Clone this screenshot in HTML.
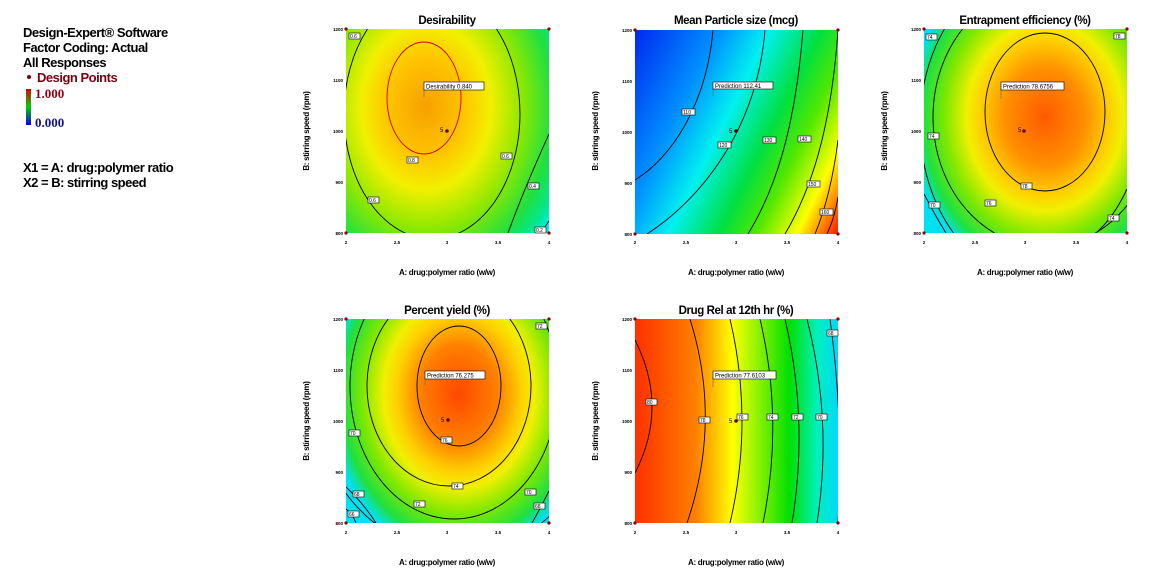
<!DOCTYPE html>
<html><head><meta charset="utf-8"><style>
body{margin:0;background:#fff;width:1154px;height:580px;overflow:hidden}
svg{display:block}
text{font-family:"Liberation Sans",sans-serif}
.t{font-weight:bold;font-size:11.5px;letter-spacing:-0.4px}
.ax{font-weight:bold;font-size:8px;letter-spacing:-0.3px}
.tk{font-size:4.5px;font-weight:bold}
.lg{font-weight:bold;font-size:13px;letter-spacing:-0.5px}
.c{fill:none;stroke:#000;stroke-width:0.9}
.lb{fill:#fff;stroke:#000;stroke-width:0.6}
.lt{font-size:5px}
.pt{font-size:6px}
.sf{font-family:"Liberation Serif",serif;font-weight:bold;font-size:13px}
</style></head><body>
<svg width="1154" height="580" viewBox="0 0 1154 580" xmlns="http://www.w3.org/2000/svg">
<defs>
<clipPath id="cp"><rect x="0" y="0" width="203" height="204"/></clipPath>
<radialGradient id="g1" gradientUnits="userSpaceOnUse" cx="80" cy="78" r="140" gradientTransform="translate(80 78) scale(1.1 1.4) translate(-80 -78)">
<stop offset="0" stop-color="#f7a000"/><stop offset="0.25" stop-color="#ffc400"/><stop offset="0.42" stop-color="#f2f000"/><stop offset="0.62" stop-color="#90e800"/><stop offset="0.82" stop-color="#20e040"/><stop offset="0.93" stop-color="#00e890"/><stop offset="1" stop-color="#00f0f0"/></radialGradient>
<linearGradient id="g2" gradientUnits="userSpaceOnUse" x1="0" y1="0" x2="240" y2="120">
<stop offset="0" stop-color="#0028f0"/><stop offset="0.28" stop-color="#0090ff"/><stop offset="0.45" stop-color="#00f0f0"/><stop offset="0.62" stop-color="#00e040"/><stop offset="0.74" stop-color="#50e800"/><stop offset="0.88" stop-color="#ffff00"/><stop offset="1" stop-color="#ff3000"/></linearGradient>
<radialGradient id="g3" gradientUnits="userSpaceOnUse" cx="121" cy="88" r="135" gradientTransform="translate(121 88) scale(1 1.2) translate(-121 -88)">
<stop offset="0" stop-color="#ff5a00"/><stop offset="0.3" stop-color="#ff9000"/><stop offset="0.48" stop-color="#ffd000"/><stop offset="0.58" stop-color="#f0f000"/><stop offset="0.74" stop-color="#80e800"/><stop offset="0.9" stop-color="#20e040"/><stop offset="1" stop-color="#00e0f0"/></radialGradient>
<radialGradient id="g4" gradientUnits="userSpaceOnUse" cx="113" cy="75" r="130" gradientTransform="translate(113 75) scale(1 1.25) translate(-113 -75)">
<stop offset="0" stop-color="#ff4800"/><stop offset="0.3" stop-color="#ff8000"/><stop offset="0.48" stop-color="#ffd000"/><stop offset="0.58" stop-color="#f0f000"/><stop offset="0.74" stop-color="#80e800"/><stop offset="0.9" stop-color="#20e040"/><stop offset="1" stop-color="#00e0f0"/></radialGradient>
<linearGradient id="g5" gradientUnits="userSpaceOnUse" x1="0" y1="0" x2="203" y2="0">
<stop offset="0" stop-color="#ff3000"/><stop offset="0.3" stop-color="#ff8000"/><stop offset="0.48" stop-color="#ffff00"/><stop offset="0.62" stop-color="#80f000"/><stop offset="0.76" stop-color="#00e000"/><stop offset="0.9" stop-color="#00f0c0"/><stop offset="1" stop-color="#00d8f8"/></linearGradient>
<linearGradient id="gl" x1="0" y1="0" x2="0" y2="1"><stop offset="0" stop-color="#e00000"/><stop offset="0.5" stop-color="#00d000"/><stop offset="1" stop-color="#0000e0"/></linearGradient>
</defs>

<!-- Legend -->
<text class="lg" x="23" y="37">Design-Expert® Software</text>
<text class="lg" x="23" y="52">Factor Coding: Actual</text>
<text class="lg" x="23" y="67">All Responses</text>
<circle cx="29" cy="77" r="2" fill="#7a0010"/>
<text class="lg" x="37" y="82" fill="#7a0010">Design Points</text>
<rect x="26" y="89" width="5" height="36" fill="url(#gl)"/>
<text class="sf" x="35" y="98" fill="#8a0010">1.000</text>
<text class="sf" x="35" y="127" fill="#101080">0.000</text>
<text class="lg" x="23" y="172">X1 = A: drug:polymer ratio</text>
<text class="lg" x="23" y="187">X2 = B: stirring speed</text>

<!-- Plot 1 -->
<g transform="translate(346,29)">
<text class="t" x="101" y="-5" text-anchor="middle">Desirability</text>
<g clip-path="url(#cp)">
<rect width="203" height="204" fill="url(#g1)"/>
<ellipse class="c" cx="86" cy="85" rx="88" ry="125"/>
<path class="c" d="M203,105 Q178,160 162,204"/>
<path class="c" d="M203,192 L195,204"/>
<ellipse cx="78" cy="69" rx="37" ry="56" fill="none" stroke="#d00000" stroke-width="0.9"/>
</g>
<rect class="lb" x="3" y="4" width="11" height="6"/><text class="lt" x="4" y="9">0.6</text>
<rect class="lb" x="22" y="168" width="11" height="6"/><text class="lt" x="23" y="173">0.6</text>
<rect class="lb" x="61" y="128" width="11" height="6"/><text class="lt" x="62" y="133">0.8</text>
<rect class="lb" x="155" y="124" width="11" height="6"/><text class="lt" x="156" y="129">0.6</text>
<rect class="lb" x="182" y="154" width="11" height="6"/><text class="lt" x="183" y="159">0.4</text>
<rect class="lb" x="189" y="198" width="11" height="6"/><text class="lt" x="190" y="203">0.2</text>
<line x1="78" y1="60" x2="78" y2="68" stroke="#666" stroke-width="0.6"/>
<rect class="lb" x="78" y="53" width="60" height="8"/><text class="pt" x="80" y="59.5">Desirability  0.840</text>
<text class="pt" x="94" y="103">5</text><circle cx="101" cy="102" r="1.8" fill="#600"/>
</g>

<!-- Plot 2 -->
<g transform="translate(635,30)">
<text class="t" x="101" y="-6" text-anchor="middle">Mean Particle size (mcg)</text>
<g clip-path="url(#cp)">
<rect width="203" height="204" fill="url(#g2)"/>
<path class="c" d="M78,0 C72,70 40,125 0,150"/>
<path class="c" d="M130,0 C122,100 65,170 12,204"/>
<path class="c" d="M168,0 C160,100 140,160 113,204"/>
<path class="c" d="M203,0 C196,100 176,160 150,204"/>
<path class="c" d="M203,110 C198,150 190,180 180,204"/>
<path class="c" d="M203,167 C200,185 196,195 192,204"/>
</g>
<rect class="lb" x="47" y="79" width="13" height="6"/><text class="lt" x="48" y="84">110</text>
<rect class="lb" x="83" y="112" width="13" height="6"/><text class="lt" x="84" y="117">120</text>
<rect class="lb" x="128" y="107" width="13" height="6"/><text class="lt" x="129" y="112">130</text>
<rect class="lb" x="163" y="106" width="13" height="6"/><text class="lt" x="164" y="111">140</text>
<rect class="lb" x="172" y="151" width="13" height="6"/><text class="lt" x="173" y="156">150</text>
<rect class="lb" x="185" y="179" width="13" height="6"/><text class="lt" x="186" y="184">160</text>
<line x1="78" y1="58" x2="78" y2="66" stroke="#666" stroke-width="0.6"/>
<rect class="lb" x="78" y="52" width="60" height="7"/><text class="pt" x="80" y="58">Prediction  112.41</text>
<text class="pt" x="94" y="103">5</text><circle cx="101" cy="101" r="1.8" fill="#600"/>
</g>

<!-- Plot 3 -->
<g transform="translate(924,29)">
<text class="t" x="101" y="-5" text-anchor="middle">Entrapment efficiency (%)</text>
<g clip-path="url(#cp)">
<rect width="203" height="204" fill="url(#g3)"/>
<ellipse class="c" cx="121" cy="83" rx="60" ry="79"/>
<ellipse class="c" cx="121" cy="88" rx="112" ry="130"/>
<ellipse class="c" cx="121" cy="95" rx="125" ry="160"/>
<path class="c" d="M203,160 Q190,188 172,204"/>
<path class="c" d="M0,165 Q12,188 22,204"/>
</g>
<rect class="lb" x="2" y="5" width="11" height="6"/><text class="lt" x="3" y="10">74</text>
<rect class="lb" x="190" y="4" width="11" height="6"/><text class="lt" x="191" y="9">78</text>
<rect class="lb" x="4" y="104" width="11" height="6"/><text class="lt" x="5" y="109">74</text>
<rect class="lb" x="5" y="173" width="11" height="6"/><text class="lt" x="6" y="178">70</text>
<rect class="lb" x="61" y="171" width="11" height="6"/><text class="lt" x="62" y="176">76</text>
<rect class="lb" x="97" y="154" width="11" height="6"/><text class="lt" x="98" y="159">78</text>
<rect class="lb" x="184" y="186" width="11" height="6"/><text class="lt" x="185" y="191">74</text>
<line x1="77" y1="59" x2="77" y2="70" stroke="#666" stroke-width="0.6"/>
<rect class="lb" x="77" y="53" width="63" height="8"/><text class="pt" x="79" y="59.5">Prediction  78.6756</text>
<text class="pt" x="94" y="103">5</text><circle cx="100" cy="102" r="1.8" fill="#600"/>
</g>

<!-- Plot 4 -->
<g transform="translate(346,319)">
<text class="t" x="101" y="-5" text-anchor="middle">Percent yield (%)</text>
<g clip-path="url(#cp)">
<rect width="203" height="204" fill="url(#g4)"/>
<ellipse class="c" cx="113" cy="67" rx="42" ry="60"/>
<ellipse class="c" cx="103" cy="67" rx="82" ry="100"/>
<ellipse class="c" cx="108" cy="67" rx="104" ry="133"/>
<ellipse class="c" cx="112" cy="62" rx="148" ry="172"/>
<path class="c" d="M0,168 Q18,185 30,204"/>
<path class="c" d="M0,190 Q7,196 10,204"/>
<path class="c" d="M203,172 Q194,190 186,204"/>
</g>
<rect class="lb" x="190" y="4" width="11" height="6"/><text class="lt" x="191" y="9">72</text>
<rect class="lb" x="3" y="111" width="11" height="6"/><text class="lt" x="4" y="116">70</text>
<rect class="lb" x="95" y="118" width="11" height="6"/><text class="lt" x="96" y="123">76</text>
<rect class="lb" x="106" y="164" width="11" height="6"/><text class="lt" x="107" y="169">74</text>
<rect class="lb" x="68" y="182" width="11" height="6"/><text class="lt" x="69" y="187">72</text>
<rect class="lb" x="7" y="172" width="11" height="6"/><text class="lt" x="8" y="177">68</text>
<rect class="lb" x="2" y="192" width="11" height="6"/><text class="lt" x="3" y="197">66</text>
<rect class="lb" x="179" y="170" width="11" height="6"/><text class="lt" x="180" y="175">70</text>
<rect class="lb" x="188" y="184" width="11" height="6"/><text class="lt" x="189" y="189">68</text>
<line x1="79" y1="58" x2="79" y2="66" stroke="#666" stroke-width="0.6"/>
<rect class="lb" x="79" y="52" width="60" height="8"/><text class="pt" x="81" y="58.5">Prediction  76.275</text>
<text class="pt" x="95" y="103">5</text><circle cx="102" cy="101" r="1.8" fill="#600"/>
</g>

<!-- Plot 5 -->
<g transform="translate(635,319)">
<text class="t" x="101" y="-5" text-anchor="middle">Drug Rel at 12th hr (%)</text>
<g clip-path="url(#cp)">
<rect width="203" height="204" fill="url(#g5)"/>
<path class="c" d="M0,21 Q34,88 0,154"/>
<path class="c" d="M55,0 Q87,102 52,204"/>
<path class="c" d="M95,0 Q119,102 95,204"/>
<path class="c" d="M125,0 Q149,102 128,204"/>
<path class="c" d="M150,0 Q174,102 157,204"/>
<path class="c" d="M172,0 Q198,102 182,204"/>
<path class="c" d="M195,0 Q209,102 203,204"/>
</g>
<rect class="lb" x="11" y="80" width="11" height="6"/><text class="lt" x="12" y="85">80</text>
<rect class="lb" x="64" y="98" width="11" height="6"/><text class="lt" x="65" y="103">78</text>
<rect class="lb" x="102" y="95" width="11" height="6"/><text class="lt" x="103" y="100">76</text>
<rect class="lb" x="132" y="95" width="11" height="6"/><text class="lt" x="133" y="100">74</text>
<rect class="lb" x="157" y="95" width="11" height="6"/><text class="lt" x="158" y="100">72</text>
<rect class="lb" x="181" y="95" width="11" height="6"/><text class="lt" x="182" y="100">70</text>
<rect class="lb" x="192" y="11" width="11" height="6"/><text class="lt" x="193" y="16">68</text>
<line x1="78" y1="58" x2="78" y2="68" stroke="#666" stroke-width="0.6"/>
<rect class="lb" x="78" y="52" width="63" height="8"/><text class="pt" x="80" y="58.5">Prediction  77.6103</text>
<text class="pt" x="94" y="104">5</text><circle cx="101" cy="102" r="1.8" fill="#600"/>
</g>

<g transform="translate(346,29)">
<circle cx="0" cy="0" r="1.6" fill="#800"/><circle cx="203" cy="0" r="1.6" fill="#800"/><circle cx="0" cy="204" r="1.6" fill="#800"/><circle cx="203" cy="204" r="1.6" fill="#800"/>
<text class="tk" x="0" y="215" text-anchor="middle">2</text><text class="tk" x="51" y="215" text-anchor="middle">2.5</text><text class="tk" x="101" y="215" text-anchor="middle">3</text><text class="tk" x="152" y="215" text-anchor="middle">3.5</text><text class="tk" x="203" y="215" text-anchor="middle">4</text>
<text class="tk" x="-3" y="2" text-anchor="end">1200</text><text class="tk" x="-3" y="53" text-anchor="end">1100</text><text class="tk" x="-3" y="104" text-anchor="end">1000</text><text class="tk" x="-3" y="155" text-anchor="end">900</text><text class="tk" x="-3" y="206" text-anchor="end">800</text>
<text class="ax" x="101" y="246" text-anchor="middle">A: drug:polymer ratio (w/w)</text>
<text class="ax" transform="translate(-37,102) rotate(-90)" text-anchor="middle">B: stirring speed (rpm)</text>
</g>
<g transform="translate(635,30)">
<circle cx="0" cy="0" r="1.6" fill="#800"/><circle cx="203" cy="0" r="1.6" fill="#800"/><circle cx="0" cy="204" r="1.6" fill="#800"/><circle cx="203" cy="204" r="1.6" fill="#800"/>
<text class="tk" x="0" y="214" text-anchor="middle">2</text><text class="tk" x="51" y="214" text-anchor="middle">2.5</text><text class="tk" x="101" y="214" text-anchor="middle">3</text><text class="tk" x="152" y="214" text-anchor="middle">3.5</text><text class="tk" x="203" y="214" text-anchor="middle">4</text>
<text class="tk" x="-3" y="2" text-anchor="end">1200</text><text class="tk" x="-3" y="53" text-anchor="end">1100</text><text class="tk" x="-3" y="104" text-anchor="end">1000</text><text class="tk" x="-3" y="155" text-anchor="end">900</text><text class="tk" x="-3" y="206" text-anchor="end">800</text>
<text class="ax" x="101" y="245" text-anchor="middle">A: drug:polymer ratio (w/w)</text>
<text class="ax" transform="translate(-37,101) rotate(-90)" text-anchor="middle">B: stirring speed (rpm)</text>
</g>
<g transform="translate(924,29)">
<circle cx="0" cy="0" r="1.6" fill="#800"/><circle cx="203" cy="0" r="1.6" fill="#800"/><circle cx="0" cy="204" r="1.6" fill="#800"/><circle cx="203" cy="204" r="1.6" fill="#800"/>
<text class="tk" x="0" y="215" text-anchor="middle">2</text><text class="tk" x="51" y="215" text-anchor="middle">2.5</text><text class="tk" x="101" y="215" text-anchor="middle">3</text><text class="tk" x="152" y="215" text-anchor="middle">3.5</text><text class="tk" x="203" y="215" text-anchor="middle">4</text>
<text class="tk" x="-3" y="2" text-anchor="end">1200</text><text class="tk" x="-3" y="53" text-anchor="end">1100</text><text class="tk" x="-3" y="104" text-anchor="end">1000</text><text class="tk" x="-3" y="155" text-anchor="end">900</text><text class="tk" x="-3" y="206" text-anchor="end">800</text>
<text class="ax" x="101" y="246" text-anchor="middle">A: drug:polymer ratio (w/w)</text>
<text class="ax" transform="translate(-37,102) rotate(-90)" text-anchor="middle">B: stirring speed (rpm)</text>
</g>
<g transform="translate(346,319)">
<circle cx="0" cy="0" r="1.6" fill="#800"/><circle cx="203" cy="0" r="1.6" fill="#800"/><circle cx="0" cy="204" r="1.6" fill="#800"/><circle cx="203" cy="204" r="1.6" fill="#800"/>
<text class="tk" x="0" y="215" text-anchor="middle">2</text><text class="tk" x="51" y="215" text-anchor="middle">2.5</text><text class="tk" x="101" y="215" text-anchor="middle">3</text><text class="tk" x="152" y="215" text-anchor="middle">3.5</text><text class="tk" x="203" y="215" text-anchor="middle">4</text>
<text class="tk" x="-3" y="2" text-anchor="end">1200</text><text class="tk" x="-3" y="53" text-anchor="end">1100</text><text class="tk" x="-3" y="104" text-anchor="end">1000</text><text class="tk" x="-3" y="155" text-anchor="end">900</text><text class="tk" x="-3" y="206" text-anchor="end">800</text>
<text class="ax" x="101" y="246" text-anchor="middle">A: drug:polymer ratio (w/w)</text>
<text class="ax" transform="translate(-37,102) rotate(-90)" text-anchor="middle">B: stirring speed (rpm)</text>
</g>
<g transform="translate(635,319)">
<circle cx="0" cy="0" r="1.6" fill="#800"/><circle cx="203" cy="0" r="1.6" fill="#800"/><circle cx="0" cy="204" r="1.6" fill="#800"/><circle cx="203" cy="204" r="1.6" fill="#800"/>
<text class="tk" x="0" y="215" text-anchor="middle">2</text><text class="tk" x="51" y="215" text-anchor="middle">2.5</text><text class="tk" x="101" y="215" text-anchor="middle">3</text><text class="tk" x="152" y="215" text-anchor="middle">3.5</text><text class="tk" x="203" y="215" text-anchor="middle">4</text>
<text class="tk" x="-3" y="2" text-anchor="end">1200</text><text class="tk" x="-3" y="53" text-anchor="end">1100</text><text class="tk" x="-3" y="104" text-anchor="end">1000</text><text class="tk" x="-3" y="155" text-anchor="end">900</text><text class="tk" x="-3" y="206" text-anchor="end">800</text>
<text class="ax" x="101" y="246" text-anchor="middle">A: drug:polymer ratio (w/w)</text>
<text class="ax" transform="translate(-37,102) rotate(-90)" text-anchor="middle">B: stirring speed (rpm)</text>
</g>
</svg>
</body></html>
